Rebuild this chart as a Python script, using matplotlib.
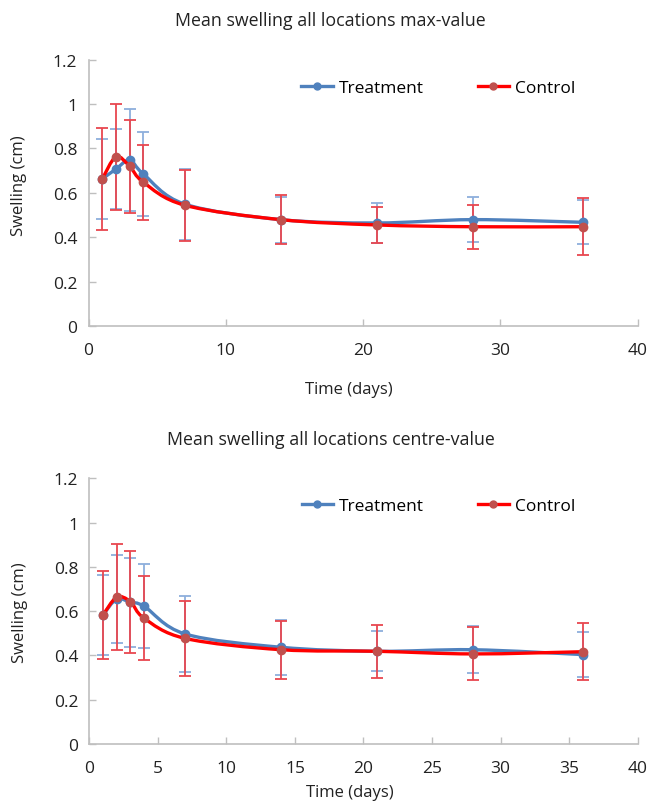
import numpy as np
import matplotlib
matplotlib.use("Agg")
import matplotlib.pyplot as plt
from matplotlib.path import Path
from matplotlib.patches import PathPatch

plt.rcParams['font.family'] = ['Open Sans', 'DejaVu Sans']

days = [1, 2, 3, 4, 7, 14, 21, 28, 36]

max_treat = [0.662, 0.707, 0.747, 0.684, 0.549, 0.479, 0.464, 0.479, 0.467]
max_treat_sd = [0.18, 0.182, 0.23, 0.19, 0.16, 0.104, 0.091, 0.10, 0.099]
max_ctrl = [0.662, 0.762, 0.719, 0.647, 0.544, 0.479, 0.455, 0.447, 0.447]
max_ctrl_sd = [0.231, 0.24, 0.21, 0.169, 0.16, 0.109, 0.08, 0.10, 0.129]

ctr_treat = [0.583, 0.655, 0.64, 0.622, 0.497, 0.437, 0.419, 0.426, 0.404]
ctr_treat_sd = [0.18, 0.20, 0.20, 0.19, 0.17, 0.125, 0.09, 0.107, 0.10]
ctr_ctrl = [0.583, 0.663, 0.643, 0.568, 0.477, 0.426, 0.419, 0.407, 0.417]
ctr_ctrl_sd = [0.20, 0.24, 0.23, 0.19, 0.17, 0.13, 0.12, 0.12, 0.13]

BLUE = "#4F81BD"
BLUE_ERR = "#8EAFDC"
RED = "#FF0000"
RED_MK = "#C0504D"
RED_ERR = "#E8474F"
GRID = "#BFBFBF"
TXT = "#222222"


def smooth_path(x, y):
    # excel-style smoothed line: cubic bezier through the points
    pts = np.column_stack([x, y]).astype(float)
    n = len(pts)
    verts = [pts[0]]
    codes = [Path.MOVETO]
    for i in range(n - 1):
        p0 = pts[i - 1] if i > 0 else pts[i]
        p1 = pts[i]
        p2 = pts[i + 1]
        p3 = pts[i + 2] if i + 2 < n else pts[i + 1]
        c1 = p1 + (p2 - p0) / 6
        c2 = p2 - (p3 - p1) / 6
        verts += [c1, c2, p2]
        codes += [Path.CURVE4] * 3
    return Path(verts, codes)


def draw_panel(ax, title, treat, treat_sd, ctrl, ctrl_sd, xticks, xlab_y, ylab_y):
    ax.errorbar(days, treat, yerr=treat_sd, fmt="none", ecolor=BLUE_ERR,
                elinewidth=1.3, capsize=4.5, capthick=1.3, zorder=2)
    ax.errorbar(days, ctrl, yerr=ctrl_sd, fmt="none", ecolor=RED_ERR,
                elinewidth=1.3, capsize=4.5, capthick=1.3, zorder=3)
    ax.add_patch(PathPatch(smooth_path(days, treat), fill=False,
                           edgecolor=BLUE, lw=2.4, zorder=4))
    ax.plot(days, treat, "o", color=BLUE, ms=6, zorder=5)
    ax.add_patch(PathPatch(smooth_path(days, ctrl), fill=False,
                           edgecolor=RED, lw=2.4, zorder=6))
    ax.plot(days, ctrl, "o", color=RED_MK, ms=6, zorder=7)

    # legend proxies
    ax.plot([], [], "-o", color=BLUE, lw=2.4, ms=5, label="Treatment")
    ax.plot([], [], "-", color=RED, lw=2.4, marker="o", ms=5,
            mfc=RED_MK, mec=RED_MK, label="Control")
    ax.legend(loc="center", bbox_to_anchor=(0.637, 0.895), ncol=2,
              frameon=False, fontsize=12.5, handlelength=1.8,
              handletextpad=0.35, columnspacing=3.1, numpoints=1)

    ax.set_xlim(0, 40)
    ax.set_ylim(0, 1.2)
    ax.set_xticks(xticks)
    ax.set_yticks([0, 0.2, 0.4, 0.6, 0.8, 1.0, 1.2])
    ax.set_yticklabels(["0", "0.2", "0.4", "0.6", "0.8", "1", "1.2"])
    for s in ["top", "right"]:
        ax.spines[s].set_visible(False)
    for s in ["left", "bottom"]:
        ax.spines[s].set_color(GRID)
        ax.spines[s].set_linewidth(1.2)
    ax.tick_params(axis="both", direction="in", colors=GRID, length=5,
                   width=1.0, labelcolor=TXT, labelsize=12.5, pad=8)
    ax.tick_params(axis="x", pad=11.5)
    ax.set_xlabel("Time (days)", fontsize=12, color=TXT, va="center")
    ax.xaxis.set_label_coords(0.4745, xlab_y)
    ax.set_ylabel("Swelling (cm)", fontsize=12, color=TXT, va="center")
    ax.yaxis.set_label_coords(-0.126, ylab_y)
    ax.set_title(title, fontsize=12.8, color=TXT, pad=25, x=0.441)


fig = plt.figure(figsize=(6.48, 8.03), dpi=100)
ax1 = fig.add_axes([0.1366, 0.5928, 0.8475, 0.3318])
ax2 = fig.add_axes([0.1378, 0.0722, 0.8463, 0.3308])

draw_panel(ax1, "Mean swelling all locations max-value",
           max_treat, max_treat_sd, max_ctrl, max_ctrl_sd,
           [0, 10, 20, 30, 40], -0.236, 0.53)
draw_panel(ax2, "Mean swelling all locations centre-value",
           ctr_treat, ctr_treat_sd, ctr_ctrl, ctr_ctrl_sd,
           [0, 5, 10, 15, 20, 25, 30, 35, 40], -0.181, 0.5)

fig.savefig("out.png", dpi=100)
